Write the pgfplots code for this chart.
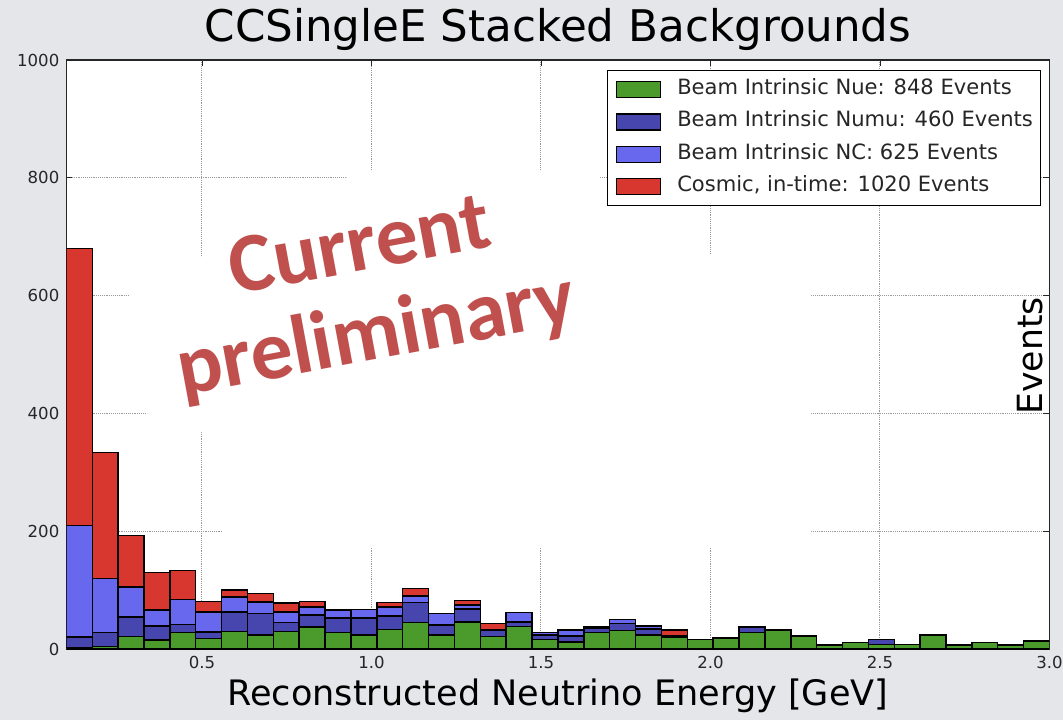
\documentclass[border=0pt]{standalone}
\usepackage{pgfplots}
\pgfplotsset{compat=1.18}
\usepackage{pgfplotstable}
\usepackage{fontspec}
\setmainfont{DejaVu Sans}
\newfontfamily\carlito{Carlito}
\definecolor{bg}{HTML}{E4E6E9}
\definecolor{cnue}{HTML}{4B9B2C}
\definecolor{cnumu}{HTML}{4646AE}
\definecolor{cnc}{HTML}{6868EE}
\definecolor{ccos}{HTML}{D7372E}
\definecolor{prelim}{HTML}{C0504D}

\pgfplotstableread{
x        nue numu nc  cos
0.13816  2   18   190 470
0.21447  4   24   92  214
0.29079  21  33   51  88
0.36711  15  24   27  64
0.44342  28  14   42  49
0.51974  18  11   34  18
0.59605  30  33   25  12
0.67237  24  36   20  14
0.74868  30  15   18  15
0.82500  37  21   13  10
0.90132  28  25   13  0
0.97763  24  29   14  0
1.05395  33  23   15  8
1.13026  45  34   11  13
1.20658  24  17   19  0
1.28289  46  22   7   7
1.35921  21  10   2   10
1.43553  38  8    16  0
1.51184  16  8    4   0
1.58816  12  10   10  0
1.66447  28  8    2   0
1.74079  31  12   7   0
1.81711  24  10   5   0
1.89342  20  2    0   10
1.96974  16  0    0   0
2.04605  19  0    0   0
2.12237  28  9    0   0
2.19868  32  0    0   0
2.27500  22  0    0   0
2.35132  7   1    0   0
2.42763  11  0    0   0
2.50395  8   8    0   0
2.58026  8   0    0   0
2.65658  24  1    0   0
2.73289  6   1    0   0
2.80921  11  0    0   0
2.88553  7   1    0   0
2.96184  13  1    0   0
}\bkg

\begin{document}
\begin{tikzpicture}[x=0.75pt,y=-0.75pt]
\fill[bg] (0,0) rectangle (1063,720);
\path[use as bounding box] (0,0) rectangle (1063,720);
\begin{axis}[
  at={(49.8pt,-486.75pt)}, anchor=south west,
  scale only axis, width=737.3pt, height=441.75pt,
  xmin=0.1, xmax=3.0, ymin=0, ymax=1000,
  ybar stacked, bar width=0.0763158,
  axis background/.style={fill=white},
  xtick={0.5,1.0,1.5,2.0,2.5,3.0},
  ytick={0,200,400,600,800,1000},
  /pgf/number format/assume math mode=true,
  xticklabel={\pgfmathprintnumber[fixed,fixed zerofill,precision=1,assume math mode=true]{\tick}},
  yticklabel={\pgfmathprintnumber[fixed,precision=0,1000 sep={},assume math mode=true]{\tick}},
  ticklabel style={font=\fontsize{12.4}{14}\selectfont, text=black!85},
  xticklabel style={yshift=-1.9pt},
  yticklabel style={xshift=-1.8pt},
  tick align=inside, xtick pos=both, ytick pos=both,
  major tick length=4.5pt,
  tick style={black!85, line width=0.7pt},
  grid=major, grid style={densely dotted, black!40, line width=0.75pt},
  axis line style={black!85, line width=0.8pt},
  every axis plot/.append style={draw=black, line width=1.1pt},
  title={CCSingleE Stacked Backgrounds},
  title style={at={(0.5,1.01698)}, anchor=base, inner sep=0pt, font=\fontsize{32.7}{36}\selectfont},
  xlabel={Reconstructed Neutrino Energy [GeV]},
  xlabel style={at={(axis description cs:0.5,-0.0951)}, anchor=base, inner sep=0pt, font=\fontsize{26.3}{30}\selectfont},
  ylabel={Events},
  ylabel style={at={(axis description cs:0.9939,0.4975)}, anchor=south, inner sep=0pt, font=\fontsize{26}{30}\selectfont},
  legend cell align=left,
  legend style={at={(0.5499,0.98302)}, anchor=north west, draw=black, line width=0.8pt, fill=white,
    inner xsep=6pt, inner ysep=8pt, row sep=11.4pt, column sep=12.5pt,
    font=\fontsize{15.8}{18}\selectfont, text=black!85,
    nodes={inner sep=0pt, text height=0.8em, text depth=0.07em}},
  legend image code/.code={\draw[#1, draw=black, line width=0.8pt] (0pt,-6pt) rectangle (33pt,6pt);},
]
\fill[white] (rel axis cs:0.2987,0.8132) -- (rel axis cs:0.5428,0.8132) -- (rel axis cs:0.5428,0.6689)
  -- (rel axis cs:0.7564,0.6689) -- (rel axis cs:0.7564,0.1715) -- (rel axis cs:0.1583,0.1715)
  -- (rel axis cs:0.1583,0.3684) -- (rel axis cs:0.0850,0.3684) -- (rel axis cs:0.0647,0.6010) -- cycle;
\addplot[fill=cnue] table[x=x,y=nue]{\bkg};
\addplot[fill=cnumu] table[x=x,y=numu]{\bkg};
\addplot[fill=cnc] table[x=x,y=nc]{\bkg};
\addplot[fill=ccos] table[x=x,y=cos]{\bkg};
\legend{Beam Intrinsic Nue: 848 Events, Beam Intrinsic Numu: 460 Events, Beam Intrinsic NC: 625 Events, {Cosmic, in-time: 1020 Events}}
\end{axis}
% overlay text
\node[anchor=center, rotate=10.5, align=center, inner sep=0pt,
  font=\carlito\bfseries\fontsize{63}{67.4}\selectfont, text=prelim] at (368.5,294) {Current\\preliminary};
\end{tikzpicture}
\end{document}
